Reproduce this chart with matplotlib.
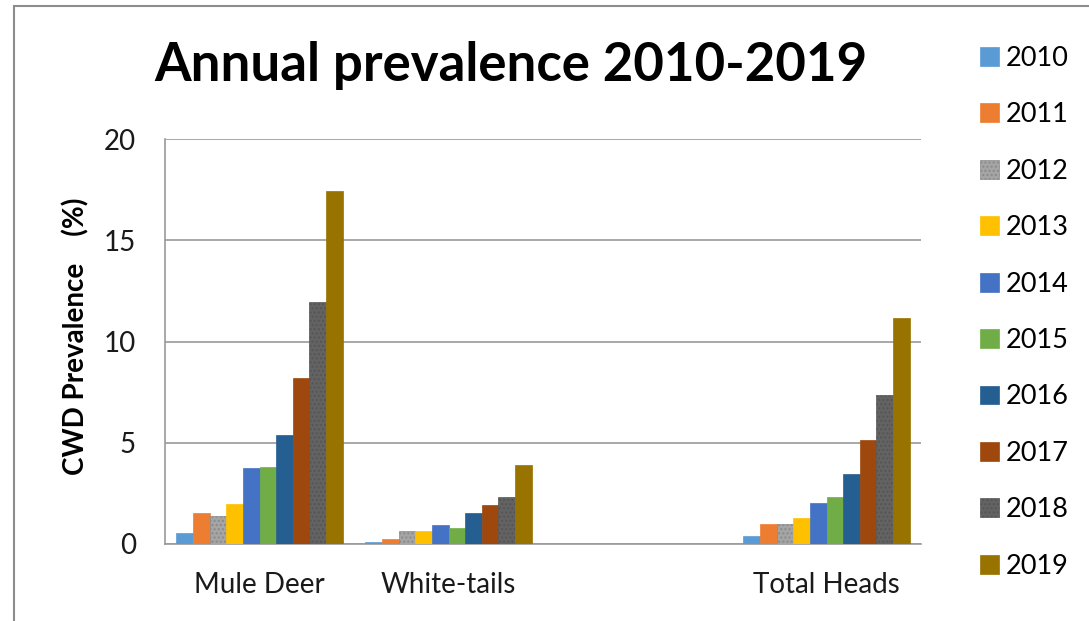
import numpy as np
import matplotlib
matplotlib.use('Agg')
import matplotlib.pyplot as plt
from matplotlib.patches import Rectangle

plt.rcParams['font.family'] = ['Lato', 'DejaVu Sans']

categories = ['Mule Deer', 'White-tails', '', 'Total Heads']
years = ['2010', '2011', '2012', '2013', '2014', '2015', '2016', '2017', '2018', '2019']

mule_deer = [0.56, 1.54, 1.38, 2.0, 3.73, 3.79, 5.4, 8.19, 11.97, 17.44]
white_tails = [0.1, 0.25, 0.64, 0.64, 0.94, 0.79, 1.55, 1.92, 2.3, 3.9]
empty_cat = [np.nan] * 10
total_heads = [0.38, 0.97, 0.97, 1.29, 2.04, 2.34, 3.48, 5.15, 7.36, 11.14]

colors = ['#5B9BD5', '#ED7D31', '#A5A5A5', '#FFC000', '#4472C4',
          '#70AD47', '#255E91', '#9E480E', '#636363', '#997300']
hatched = ['2012', '2018']

values = np.array([mule_deer, white_tails, empty_cat, total_heads])

fig = plt.figure(figsize=(10.89, 6.21), dpi=100)
ax = fig.add_axes([165 / 1089, 1 - 544 / 621, 756 / 1089, 405 / 621])

x = np.arange(len(categories))
n = len(years)
group = 0.88
w = group / n
for i, yr in enumerate(years):
    pos = x - group / 2 + w * (i + 0.5)
    bars = ax.bar(pos, values[:, i], width=w, color=colors[i], label=yr,
                  edgecolor=colors[i], linewidth=0.5, zorder=3)
    if yr in hatched:
        for b in bars:
            b.set_hatch('....')
            b.set_edgecolor('#8a8a8a' if yr == '2012' else '#555555')

ax.set_xlim(-0.5, len(categories) - 0.5)
ax.set_ylim(0, 20)
ax.set_yticks([0, 5, 10, 15, 20])
ax.set_xticks(x)
ax.set_xticklabels(categories)
ax.tick_params(axis='both', length=0, labelsize=20, colors='#1a1a1a')
ax.tick_params(axis='y', pad=21)
ax.tick_params(axis='x', pad=20)
ax.grid(axis='y', color='#9a9a9a', linewidth=1.2, zorder=0)
for s in ['top', 'right']:
    ax.spines[s].set_visible(False)
for s in ['left', 'bottom']:
    ax.spines[s].set_color('#9a9a9a')
    ax.spines[s].set_linewidth(1.2)

fig.text(76 / 1089, 1 - 336 / 621, 'CWD Prevalence    (%)', fontsize=20,
         fontweight='bold', rotation=90, ha='center', va='center')

fig.text(511 / 1089, 1 - 65 / 621, 'Annual prevalence 2010-2019', fontsize=38,
         fontweight='bold', ha='center', va='center')

leg = fig.legend(loc='upper left', bbox_to_anchor=(980 / 1089, 1 - 46 / 621),
                 frameon=False, fontsize=19.5, handlelength=0.7, handleheight=0.7,
                 handletextpad=0.25, labelspacing=1.16, borderaxespad=0,
                 borderpad=0)

fig.patches.append(Rectangle((14 / 1089, -0.1), 2, 1.1 - 6 / 621,
                             transform=fig.transFigure, fill=False,
                             edgecolor='#8c8c8c', linewidth=1.5))

fig.savefig('out.png', dpi=100)
